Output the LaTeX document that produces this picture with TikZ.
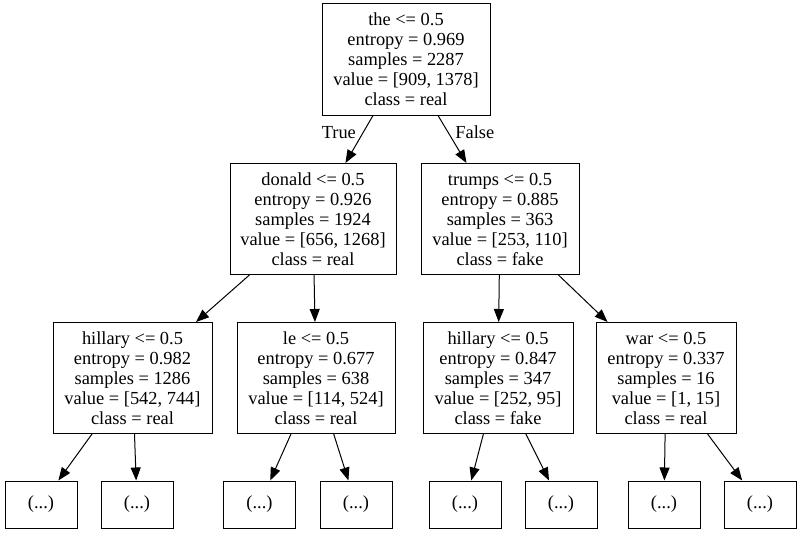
\documentclass[tikz,border=0pt]{standalone}
\usepackage{fontspec}
\setmainfont{Liberation Serif}
\usetikzlibrary{arrows.meta}

\begin{document}
\begin{tikzpicture}[
    x=1pt, y=-1pt,
    font=\fontsize{18.4}{20}\selectfont,
    split/.style={draw=black, line width=1pt, minimum height=111pt,
        align=center, inner sep=0pt},
    leaf/.style={draw=black, line width=1pt, minimum width=72pt,
        minimum height=47pt, inner sep=0pt},
    flow/.style={-{Triangle[length=13pt, width=10pt]}, line width=1pt},
    edge label/.style={inner sep=2pt}
]
    \useasboundingbox (0,0) rectangle (801,535);

    \node[split, minimum width=168pt] (root) at (406,59.5) {the <= 0.5\\entropy = 0.969\\samples = 2287\\value = [909, 1378]\\class = real};

    \node[split, minimum width=166pt] (donald) at (313,219) {donald <= 0.5\\entropy = 0.926\\samples = 1924\\value = [656, 1268]\\class = real};
    \node[split, minimum width=158pt] (trumps) at (500,219) {trumps <= 0.5\\entropy = 0.885\\samples = 363\\value = [253, 110]\\class = fake};

    \node[split, minimum width=159pt] (hillaryA) at (132.5,378) {hillary <= 0.5\\entropy = 0.982\\samples = 1286\\value = [542, 744]\\class = real};
    \node[split, minimum width=158pt] (le) at (316,378) {le <= 0.5\\entropy = 0.677\\samples = 638\\value = [114, 524]\\class = real};
    \node[split, minimum width=150pt] (hillaryB) at (498,378) {hillary <= 0.5\\entropy = 0.847\\samples = 347\\value = [252, 95]\\class = fake};
    \node[split, minimum width=140pt] (war) at (666,378) {war <= 0.5\\entropy = 0.337\\samples = 16\\value = [1, 15]\\class = real};

    \node[leaf] (l1) at (41,504.5) {(...)};
    \node[leaf] (l2) at (137,504.5) {(...)};
    \node[leaf] (l3) at (259.5,504.5) {(...)};
    \node[leaf] (l4) at (356,504.5) {(...)};
    \node[leaf] (l5) at (465,504.5) {(...)};
    \node[leaf] (l6) at (561,504.5) {(...)};
    \node[leaf] (l7) at (664,504.5) {(...)};
    \node[leaf] (l8) at (760,504.5) {(...)};

    \draw[flow] ([xshift=-33pt]root.south) -- node[edge label, pos=0.35, left=5pt] {True} (donald);
    \draw[flow] ([xshift=32pt]root.south) -- node[edge label, pos=0.35, right=5pt] {False} (trumps);

    \draw[flow] (donald) -- (hillaryA);
    \draw[flow] (donald) -- (le);
    \draw[flow] (trumps) -- (hillaryB);
    \draw[flow] (trumps) -- (war);

    \draw[flow] (hillaryA) -- (l1);
    \draw[flow] (hillaryA) -- (l2);
    \draw[flow] (le) -- (l3);
    \draw[flow] (le) -- (l4);
    \draw[flow] (hillaryB) -- (l5);
    \draw[flow] (hillaryB) -- (l6);
    \draw[flow] (war) -- (l7);
    \draw[flow] (war) -- (l8);
\end{tikzpicture}
\end{document}
